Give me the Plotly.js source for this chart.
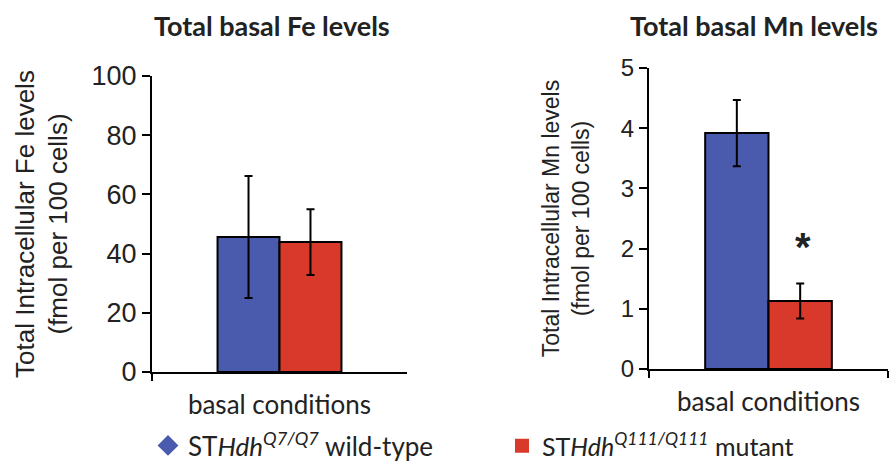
<!DOCTYPE html>
<html>
<head>
<meta charset="utf-8">
<script src="https://cdn.plot.ly/plotly-3.0.1.min.js"></script>
<style>body{margin:0;background:#fff}#chart{width:890px;height:464px}</style>
</head>
<body>
<div id="chart"></div>
<script>
// ---- data ----
const categories = ["basal conditions"];
const seriesNames = ["ST<i>Hdh</i><sup><i>Q7/Q7</i></sup> wild-type", "ST<i>Hdh</i><sup><i>Q111/Q111</i></sup> mutant"];
const feWildType = [45.6];
const feWildTypeErr = [20.6];
const feMutant = [43.9];
const feMutantErr = [11.1];
const mnWildType = [3.92];
const mnWildTypeErr = [0.55];
const mnMutant = [1.13];
const mnMutantErr = [0.29];
const feTicks = [0, 20, 40, 60, 80, 100];
const mnTicks = [0, 1, 2, 3, 4, 5];
const mnSignificance = ["*"];

// ---- style ----
const BLUE = "#4a5aad", RED = "#d8392b";
const sansT = "Liberation Sans, Arial, sans-serif";
const sansC = "Lato, Open Sans, sans-serif";
const W1 = 0.243, W2 = 0.265;

function bar(x, y, err, color, xa, ya, w, off) {
  return {
    type: "bar", x: x, y: y, xaxis: xa, yaxis: ya,
    width: [w], offset: [off],
    marker: {color: color, line: {color: "#000", width: 2}},
    error_y: {type: "data", array: err, visible: true, color: "#000", thickness: 2, width: 4},
    showlegend: false, hoverinfo: "skip"
  };
}

const traces = [
  bar(categories, feWildType, feWildTypeErr, BLUE, "x", "y", W1, -W1),
  bar(categories, feMutant, feMutantErr, RED, "x", "y", W1, 0),
  bar(categories, mnWildType, mnWildTypeErr, BLUE, "x2", "y2", W2, -W2),
  bar(categories, mnMutant, mnMutantErr, RED, "x2", "y2", W2, 0),
  {type: "scatter", mode: "markers", x: [null], y: [null], name: seriesNames[0],
   marker: {symbol: "diamond", color: BLUE, size: 20}, legend: "legend", showlegend: true},
  {type: "scatter", mode: "markers", x: [null], y: [null], name: seriesNames[1],
   marker: {symbol: "square", color: RED, size: 14}, legend: "legend2", showlegend: true}
];

function yax(domain, ticks, range, fsize, title, tsize, anchor, standoff) {
  return {
    domain: domain, range: range, tickvals: ticks, ticktext: ticks.map(String),
    ticks: "outside", ticklen: 8, tickwidth: 2, tickcolor: "#000",
    showline: true, linecolor: "#000", linewidth: 2, showgrid: false, zeroline: false,
    tickfont: {family: sansT, size: fsize, color: "#222"},
    title: {text: title, font: {family: sansT, size: tsize, color: "#222"}, standoff: standoff},
    anchor: anchor, fixedrange: true, automargin: false
  };
}
function xax(domain, anchor) {
  return {
    domain: domain, type: "category", range: [-0.5, 0.5], anchor: anchor,
    tickson: "boundaries", ticks: "outside", ticklen: 7, tickwidth: 2, tickcolor: "#000",
    showline: true, linecolor: "#000", linewidth: 2, showgrid: false,
    ticklabelstandoff: 9,
    tickfont: {family: sansC, size: 26, color: "#222"}, fixedrange: true, automargin: false
  };
}

const layout = {
  width: 890, height: 464,
  margin: {l: 0, r: 0, t: 0, b: 0, autoexpand: false},
  paper_bgcolor: "#fff", plot_bgcolor: "#fff",
  showlegend: true,
  xaxis: xax([152/890, 407/890], "y"),
  yaxis: yax([92/464, 388/464], feTicks, [0, 100], 27,
    "Total Intracellular Fe levels<br>(fmol per 100 cells)", 26, "x", 16),
  xaxis2: xax([649/890, 888/890], "y2"),
  yaxis2: yax([95/464, 396/464], mnTicks, [0, 5], 24,
    "Total Intracellular Mn levels<br>(fmol per 100 cells)", 23, "x2", 25),
  legend: {x: 148/890, y: -5/464, xanchor: "left", yanchor: "bottom", borderwidth: 0,
    font: {family: sansC, size: 26, color: "#222"}, bgcolor: "rgba(0,0,0,0)"},
  legend2: {x: 502/890, y: -5/464, xanchor: "left", yanchor: "bottom", borderwidth: 0,
    font: {family: sansC, size: 25, color: "#222"}, bgcolor: "rgba(0,0,0,0)"},
  annotations: [
    {text: "<b>Total basal Fe levels</b>", xref: "paper", yref: "paper", x: 272/890, y: 1 - 25/464,
     xanchor: "center", yanchor: "middle", showarrow: false, font: {family: sansC, size: 27, color: "#222"}},
    {text: "<b>Total basal Mn levels</b>", xref: "paper", yref: "paper", x: 754/890, y: 1 - 25/464,
     xanchor: "center", yanchor: "middle", showarrow: false, font: {family: sansC, size: 27, color: "#222"}},
    {text: "<b>" + mnSignificance[0] + "</b>", xref: "x2", yref: "y2", x: W2/2 + 0.01, y: mnMutant[0] + mnMutantErr[0] + 0.6,
     xanchor: "center", yanchor: "middle", showarrow: false, font: {family: sansT, size: 40, color: "#222"}}
  ]
};

Plotly.newPlot("chart", traces, layout, {staticPlot: true, displayModeBar: false});
</script>
</body>
</html>
